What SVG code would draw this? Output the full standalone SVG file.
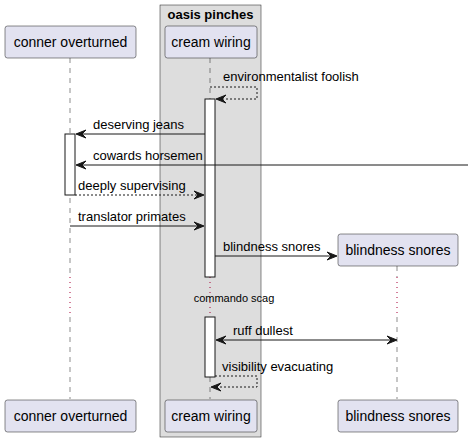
<svg xmlns="http://www.w3.org/2000/svg" width="468" height="442" viewBox="0 0 468 442">
<style>
.pbox{fill:#E2E2F0;stroke:#181818;stroke-width:0.5}
.ptxt{font-family:"Liberation Sans",Arial,sans-serif;font-size:14px;fill:#000}
.mtxt{font-family:"Liberation Sans",Arial,sans-serif;font-size:13px;fill:#000}
.life{stroke:#181818;stroke-width:0.5;stroke-dasharray:5,5;fill:none}
.delay{stroke:#A80036;stroke-width:1;stroke-dasharray:1,4;fill:none}
.act{fill:#FFFFFF;stroke:#181818;stroke-width:1}
.msg{stroke:#181818;stroke-width:1;fill:none}
.dash{stroke-dasharray:2,2}
.head{fill:#181818;stroke:#181818;stroke-width:1}
</style>
<rect width="468" height="442" fill="#FFFFFF"/>
<g id="box-oasis-pinches">
<rect x="160" y="5" width="101" height="432" fill="#DDDDDD" stroke="#181818" stroke-width="0.5"/>
<text x="210.5" y="19" text-anchor="middle" font-family="Liberation Sans,Arial,sans-serif" font-size="13" font-weight="bold">oasis pinches</text>
</g>
<g id="lifelines">
<line class="life" x1="70" y1="58" x2="70" y2="277"/>
<line class="delay" x1="70" y1="277" x2="70" y2="317"/>
<line class="life" x1="70" y1="317" x2="70" y2="399"/>
<line class="life" x1="210" y1="58" x2="210" y2="277"/>
<line class="delay" x1="210" y1="277" x2="210" y2="317"/>
<line class="life" x1="210" y1="317" x2="210" y2="399"/>
<line class="life" x1="397" y1="266" x2="397" y2="277"/>
<line class="delay" x1="397" y1="277" x2="397" y2="317"/>
<line class="life" x1="397" y1="317" x2="397" y2="399"/>
</g>
<g id="activations">
<rect class="act" x="205" y="99" width="10" height="178"/>
<rect class="act" x="205" y="317" width="10" height="60"/>
<rect class="act" x="65" y="134" width="10" height="61"/>
</g>
<g id="conner-overturned">
<rect class="pbox" x="5" y="26" width="131" height="32" rx="2.5"/>
<text class="ptxt" x="70.5" y="47" text-anchor="middle">conner overturned</text>
<rect class="pbox" x="5" y="400" width="131" height="32" rx="2.5"/>
<text class="ptxt" x="70.5" y="421" text-anchor="middle">conner overturned</text>
</g>
<g id="cream-wiring">
<rect class="pbox" x="165" y="26" width="92" height="32" rx="2.5"/>
<text class="ptxt" x="211" y="47" text-anchor="middle">cream wiring</text>
<rect class="pbox" x="165" y="400" width="92" height="32" rx="2.5"/>
<text class="ptxt" x="211" y="421" text-anchor="middle">cream wiring</text>
</g>
<g id="blindness-snores">
<rect class="pbox" x="338" y="234" width="120" height="32" rx="2.5"/>
<text class="ptxt" x="398" y="255" text-anchor="middle">blindness snores</text>
<rect class="pbox" x="338" y="400" width="120" height="32" rx="2.5"/>
<text class="ptxt" x="398" y="421" text-anchor="middle">blindness snores</text>
</g>
<g id="connectors">
<polyline class="msg dash" points="210,87 257,87 257,99 216,99"/>
<polygon class="head" points="216,99 226,95 222,99 226,103"/>
<text class="mtxt" x="223" y="81">environmentalist foolish</text>

<line class="msg" x1="205" y1="134" x2="77" y2="134"/>
<polygon class="head" points="76,134 86,130 82,134 86,138"/>
<text class="mtxt" x="93" y="129">deserving jeans</text>

<line class="msg" x1="468" y1="165" x2="77" y2="165"/>
<polygon class="head" points="76,165 86,161 82,165 86,169"/>
<text class="mtxt" x="93" y="160">cowards horsemen</text>

<line class="msg dash" x1="75" y1="195" x2="203" y2="195"/>
<polygon class="head" points="204,195 194,191 198,195 194,199"/>
<text class="mtxt" x="78" y="190">deeply supervising</text>

<line class="msg" x1="70" y1="226" x2="203" y2="226"/>
<polygon class="head" points="204,226 194,222 198,226 194,230"/>
<text class="mtxt" x="78" y="221">translator primates</text>

<line class="msg" x1="215" y1="256" x2="336" y2="256"/>
<polygon class="head" points="337,256 327,252 331,256 327,260"/>
<text class="mtxt" x="223" y="251">blindness snores</text>

<line class="msg" x1="217" y1="340" x2="396" y2="340"/>
<polygon class="head" points="216,340 226,336 222,340 226,344"/>
<polygon class="head" points="397,340 387,336 391,340 387,344"/>
<text class="mtxt" x="233" y="335">ruff dullest</text>

<polyline class="msg dash" points="215,376 257,376 257,387 212,387"/>
<polygon class="head" points="211,387 221,383 217,387 221,391"/>
<text class="mtxt" x="222" y="371">visibility evacuating</text>
</g>
<g id="delay">
<text x="234" y="302" text-anchor="middle" font-family="Liberation Sans,Arial,sans-serif" font-size="11">commando scag</text>
</g>
</svg>
